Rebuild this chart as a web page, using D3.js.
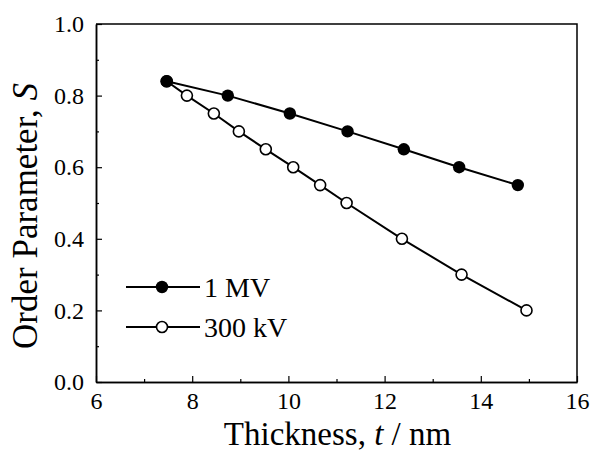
<!DOCTYPE html>
<html><head><meta charset="utf-8">
<script src="https://cdn.jsdelivr.net/npm/d3@7"></script>
<style>body{margin:0;background:#fff}svg{display:block}</style>
</head><body>
<script>
const thickness1MV = [7.47, 8.74, 10.03, 11.23, 12.40, 13.55, 14.77];
const order1MV     = [0.84, 0.80, 0.75, 0.70, 0.65, 0.60, 0.55];
const thickness300kV = [7.47, 7.89, 8.45, 8.97, 9.53, 10.10, 10.66, 11.21, 12.36, 13.60, 14.95];
const order300kV     = [0.84, 0.80, 0.75, 0.70, 0.65, 0.60, 0.55, 0.50, 0.40, 0.30, 0.20];
const xTicks = [6, 8, 10, 12, 14, 16];
const yTicks = [0.0, 0.2, 0.4, 0.6, 0.8, 1.0];
const xMinor = [7, 9, 11, 13, 15];
const yMinor = [0.1, 0.3, 0.5, 0.7, 0.9];
const legendLabels = ["1 MV", "300 kV"];

const W = 592, H = 454;
const m = {left: 96, top: 24, right: 15, bottom: 72};
const svg = d3.select("body").append("svg").attr("width", W).attr("height", H);
const x = d3.scaleLinear().domain([6, 16]).range([m.left, W - m.right]);
const y = d3.scaleLinear().domain([0, 1]).range([H - m.bottom, m.top]);
const font = "'Liberation Serif','Times New Roman',serif";

// frame top/right
svg.append("path")
  .attr("d", `M${x(6)},${y(1)}H${x(16)}V${y(0)}`)
  .attr("fill", "none").attr("stroke", "#000").attr("stroke-width", 1.5);

const xAxis = svg.append("g").attr("transform", `translate(0,${y(0)})`)
  .call(d3.axisBottom(x).tickValues(xTicks).tickFormat(d3.format("d")).tickSizeInner(-6).tickSizeOuter(0).tickPadding(10));
const yAxis = svg.append("g").attr("transform", `translate(${x(6)},0)`)
  .call(d3.axisLeft(y).tickValues(yTicks).tickFormat(d3.format(".1f")).tickSizeInner(-6).tickSizeOuter(0).tickPadding(12));
const xAxisMinor = svg.append("g").attr("transform", `translate(0,${y(0)})`)
  .call(d3.axisBottom(x).tickValues(xMinor).tickFormat("").tickSizeInner(-3).tickSizeOuter(0));
const yAxisMinor = svg.append("g").attr("transform", `translate(${x(6)},0)`)
  .call(d3.axisLeft(y).tickValues(yMinor).tickFormat("").tickSizeInner(-3).tickSizeOuter(0));
[xAxis, yAxis, xAxisMinor, yAxisMinor].forEach(g => {
  g.select(".domain").attr("stroke-width", 1.5);
  g.selectAll(".tick line").attr("stroke-width", 1.2);
  g.selectAll("text").attr("font-family", font).attr("font-size", 24).attr("fill", "#000");
});

// axis titles
const xt = svg.append("text").attr("x", (x(6) + x(16)) / 2 + 1).attr("y", 445)
  .attr("text-anchor", "middle").attr("font-family", font).attr("font-size", 33);
xt.append("tspan").text("Thickness, ");
xt.append("tspan").attr("font-style", "italic").text("t");
xt.append("tspan").text(" / nm");
const yt = svg.append("text").attr("transform", `translate(37,${(y(0) + y(1)) / 2 + 13}) rotate(-90)`)
  .attr("text-anchor", "middle").attr("font-family", font).attr("font-size", 35);
yt.append("tspan").text("Order Parameter, ");
yt.append("tspan").attr("font-style", "italic").text("S");

const line = d3.line().x(d => x(d[0])).y(d => y(d[1]));
const d1 = thickness1MV.map((t, i) => [t, order1MV[i]]);
const d2 = thickness300kV.map((t, i) => [t, order300kV[i]]);

svg.append("path").datum(d2).attr("d", line).attr("fill", "none").attr("stroke", "#000").attr("stroke-width", 2);
svg.append("path").datum(d1).attr("d", line).attr("fill", "none").attr("stroke", "#000").attr("stroke-width", 2);
svg.selectAll(".p2").data(d2).join("circle").attr("cx", d => x(d[0])).attr("cy", d => y(d[1]))
  .attr("r", 5.5).attr("fill", "#fff").attr("stroke", "#000").attr("stroke-width", 1.6);
svg.selectAll(".p1").data(d1).join("circle").attr("cx", d => x(d[0])).attr("cy", d => y(d[1]))
  .attr("r", 6.2).attr("fill", "#000");

// legend
const leg = svg.append("g");
legendLabels.forEach((lab, i) => {
  const ly = 287 + i * 40;
  leg.append("line").attr("x1", 126).attr("x2", 200).attr("y1", ly).attr("y2", ly).attr("stroke", "#000").attr("stroke-width", 2);
  if (i === 0) leg.append("circle").attr("cx", 162).attr("cy", ly).attr("r", 6.2).attr("fill", "#000");
  else leg.append("circle").attr("cx", 162).attr("cy", ly).attr("r", 5.5).attr("fill", "#fff").attr("stroke", "#000").attr("stroke-width", 1.6);
  leg.append("text").attr("x", 204).attr("y", ly + 10).attr("font-family", font).attr("font-size", 28).text(lab);
});
</script>
</body></html>
